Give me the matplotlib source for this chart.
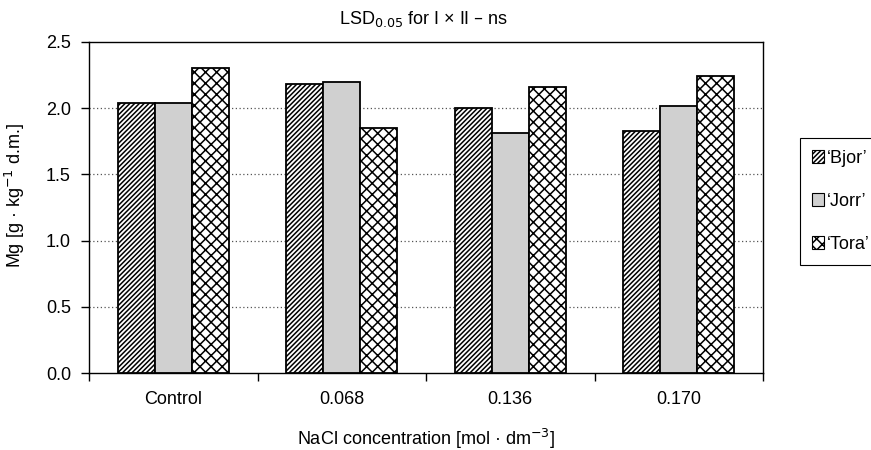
import numpy as np
import matplotlib
matplotlib.use('Agg')
import matplotlib.pyplot as plt
from matplotlib.patches import Patch

plt.rcParams['font.family'] = ['Liberation Sans', 'DejaVu Sans']
plt.rcParams['hatch.linewidth'] = 1.1

# ── Data ──────────────────────────────────────────────────────────────────
categories = ['Control', '0.068', '0.136', '0.170']
cultivars  = ['\u2018Bjor\u2019', '\u2018Jorr\u2019', '\u2018Tora\u2019']
bjor = [2.04, 2.18, 2.00, 1.83]
jorr = [2.04, 2.20, 1.81, 2.02]
tora = [2.30, 1.85, 2.16, 2.24]
series = [bjor, jorr, tora]

fills   = ['white', '#d0d0d0', 'white']
hatches = ['///////', '', 'xxx']

FS = 13

# ── Figure ────────────────────────────────────────────────────────────────
fig = plt.figure(figsize=(8.71, 4.5), dpi=100)
ax = fig.add_axes([89/871, 1 - 373/450, (763 - 89)/871, (373 - 42)/450])

x = np.arange(len(categories))
w = 0.22
for i, vals in enumerate(series):
    ax.bar(x + (i - 1) * w, vals, width=w, color=fills[i], hatch=hatches[i],
           edgecolor='black', linewidth=1.3, zorder=3)

ax.set_xlim(-0.5, len(categories) - 0.5)
ax.set_ylim(0, 2.5)
yt = np.arange(0, 2.51, 0.5)
ax.set_yticks(yt)
ax.set_yticklabels([f'{v:.1f}' for v in yt], fontsize=FS)
ax.set_xticks(x)
ax.set_xticklabels(categories, fontsize=FS)
ax.tick_params(axis='x', length=0, pad=13)
ax.set_xticks(np.arange(-0.5, len(categories), 1.0), minor=True)
ax.tick_params(axis='x', which='minor', length=6, direction='out', width=1)
ax.tick_params(axis='y', length=6, direction='out', width=1, pad=7)

# dotted horizontal gridlines
for y in [0.5, 1.0, 1.5, 2.0]:
    ax.axhline(y, color='#555555', linestyle=(0, (1, 2)), linewidth=0.9, zorder=1)

for s in ax.spines.values():
    s.set_color('black')
    s.set_linewidth(1.0)

fig.text(424/871, 1 - 19/450, 'LSD$_{0.05}$ for I \u00d7 II \u2013 ns', ha='center', va='center',
         fontsize=FS)
fig.text(426/871, 1 - 439/450, 'NaCl concentration [mol \u00b7 dm$^{\u22123}$]',
         ha='center', va='center', fontsize=FS)
fig.text(15/871, 1 - 195/450, 'Mg [g \u00b7 kg$^{\u22121}$ d.m.]', ha='center', va='center',
         rotation=90, fontsize=FS)

# legend sits partly off the right edge, as in the original
handles = [Patch(facecolor=fills[i], hatch=hatches[i], edgecolor='black', linewidth=0.8)
           for i in range(3)]
leg = fig.legend(handles, cultivars, loc='upper left',
                 bbox_to_anchor=(800/871, 1 - 138/450), bbox_transform=fig.transFigure,
                 borderaxespad=0, fontsize=FS, frameon=True, fancybox=False,
                 edgecolor='black', framealpha=1, labelspacing=1.45,
                 handlelength=0.7, handleheight=0.7, handletextpad=0.15,
                 borderpad=0.65)
leg.get_frame().set_linewidth(0.8)

fig.savefig('out.png', dpi=100)
